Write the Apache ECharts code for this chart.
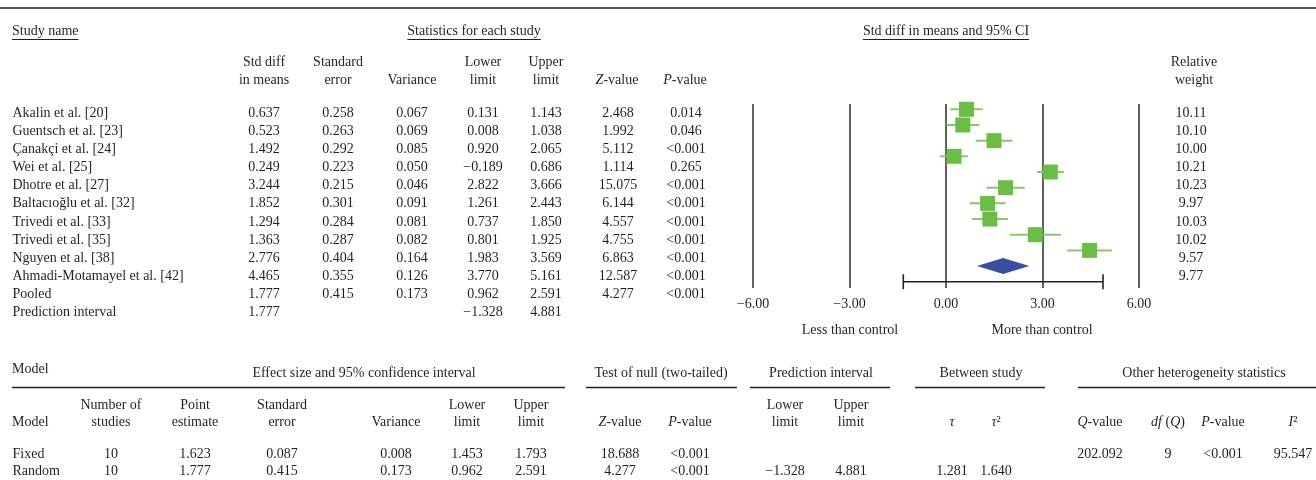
<!DOCTYPE html>
<html>
<head>
<meta charset="utf-8">
<script src="https://cdn.jsdelivr.net/npm/echarts@6/dist/echarts.min.js"></script>
<style>
html,body{margin:0;padding:0;background:#fff;}
#chart{width:1316px;height:480px;}
</style>
</head>
<body>
<div id="chart"></div>
<script>
// ---------------- DATA ----------------
const studies = ['Akalin et al. [20]','Guentsch et al. [23]','Çanakçi et al. [24]','Wei et al. [25]','Dhotre et al. [27]','Baltacıoğlu et al. [32]','Trivedi et al. [33]','Trivedi et al. [35]','Nguyen et al. [38]','Ahmadi-Motamayel et al. [42]'];
const smd        = [0.637, 0.523, 1.492, 0.249, 3.244, 1.852, 1.294, 1.363, 2.776, 4.465];
const stdErr     = [0.258, 0.263, 0.292, 0.223, 0.215, 0.301, 0.284, 0.287, 0.404, 0.355];
const variance   = [0.067, 0.069, 0.085, 0.050, 0.046, 0.091, 0.081, 0.082, 0.164, 0.126];
const lowerLimit = [0.131, 0.008, 0.920, -0.189, 2.822, 1.261, 0.737, 0.801, 1.983, 3.770];
const upperLimit = [1.143, 1.038, 2.065, 0.686, 3.666, 2.443, 1.850, 1.925, 3.569, 5.161];
const zValue     = [2.468, 1.992, 5.112, 1.114, 15.075, 6.144, 4.557, 4.755, 6.863, 12.587];
const pValue     = ['0.014','0.046','<0.001','0.265','<0.001','<0.001','<0.001','<0.001','<0.001','<0.001'];
const relWeight  = [10.11, 10.10, 10.00, 10.21, 10.23, 9.97, 10.03, 10.02, 9.57, 9.77];
const pooledStats     = [1.777, 0.415, 0.173, 0.962, 2.591, 4.277, '<0.001'];
const predictionStats = [1.777, null, null, -1.328, 4.881, null, null];
const summaryRowNames = ['Pooled', 'Prediction interval'];
const forestTicks = [-6, -3, 0, 3, 6];
const modelNames  = ['Fixed', 'Random'];
const fixedModel  = [10, 1.623, 0.087, 0.008, 1.453, 1.793, 18.688, '<0.001', null, null, null, null, 202.092, 9, '<0.001', 95.547];
const randomModel = [10, 1.777, 0.415, 0.173, 0.962, 2.591, 4.277, '<0.001', -1.328, 4.881, 1.281, 1.640, null, null, null, null];

// ---------------- LAYOUT / STYLE ----------------
const FONT = 'Liberation Serif';
const FS = 14;
const INK = '#231f20';
const GREEN = '#6cbd45';
const GREEN_LINE = '#86c965';
const BLUE = '#3a4d9f';
const topColX = [264, 338, 412, 483, 546, 618, 686];
const topColDec = [3, 3, 3, 3, 3, 3, 3];
const weightColX = 1191;
const nameColX = 12;
const botColX = [111, 195, 282, 396, 467, 531, 620, 690, 785, 851, 952, 996, 1100, 1168, 1223, 1293];
const botColDec = [0, 3, 3, 3, 3, 3, 3, 3, 3, 3, 3, 3, 3, 0, 3, 3];

function fmt(v, d) {
  if (v === null || v === undefined) return null;
  if (typeof v === 'string') return v;
  return (v < 0 ? '\u2212' : '') + Math.abs(v).toFixed(d);
}

const ctx = document.createElement('canvas').getContext('2d');
ctx.font = FS + 'px "' + FONT + '"';
function tw(s) { return ctx.measureText(s).width; }

const RICH = { i: { fontStyle: 'italic', fontFamily: FONT, fontSize: FS, fill: INK } };
function T(x, y, text, align) {
  return { type: 'text', x: x, y: y, silent: true,
    style: { text: text, fill: INK, fontFamily: FONT, fontSize: FS, align: align || 'center', verticalAlign: 'middle', rich: RICH } };
}
function L(x1, y1, x2, y2, w) {
  return { type: 'line', silent: true, shape: { x1: x1, y1: y1, x2: x2, y2: y2 }, style: { stroke: INK, lineWidth: w || 1 } };
}
function UT(x, y, text, align) {
  const w = tw(text);
  const x1 = align === 'left' ? x : x - w / 2;
  return [T(x, y, text, align), L(x1, y + 8.5, x1 + w, y + 8.5, 1)];
}

// ---------------- GRAPHIC (headers) ----------------
const graphic = [];
graphic.push(L(0, 8, 1316, 8, 1.6));
graphic.push(...UT(12, 31, 'Study name', 'left'));
graphic.push(...UT(474, 31, 'Statistics for each study', 'center'));
graphic.push(...UT(946, 31, 'Std diff in means and 95% CI', 'center'));
const topHead = [
  [264, 'Std diff', 'in means'], [338, 'Standard', 'error'], [412, null, 'Variance'],
  [483, 'Lower', 'limit'], [546, 'Upper', 'limit'], [617, null, '{i|Z}-value'],
  [685, null, '{i|P}-value'], [1194, 'Relative', 'weight']
];
topHead.forEach(h => { if (h[1]) graphic.push(T(h[0], 62, h[1])); graphic.push(T(h[0], 80, h[2])); });
graphic.push(T(850, 330, 'Less than control'));
graphic.push(T(1042, 330, 'More than control'));

graphic.push(T(12, 369, 'Model', 'left'));
[[364, 'Effect size and 95% confidence interval', 12, 565],
 [661, 'Test of null (two-tailed)', 586, 737],
 [821, 'Prediction interval', 750, 890],
 [981, 'Between study', 915, 1045],
 [1204, 'Other heterogeneity statistics', 1078, 1316]].forEach(g => {
  graphic.push(T(g[0], 373, g[1]));
  graphic.push(L(g[2], 387.5, g[3], 387.5, 1.4));
});
graphic.push(T(12, 422, 'Model', 'left'));
const botHead = [
  [111, 'Number of', 'studies'], [195, 'Point', 'estimate'], [282, 'Standard', 'error'],
  [396, null, 'Variance'], [467, 'Lower', 'limit'], [531, 'Upper', 'limit'],
  [620, null, '{i|Z}-value'], [690, null, '{i|P}-value'], [785, 'Lower', 'limit'],
  [851, 'Upper', 'limit'], [952, null, '{i|τ}'], [996, null, '{i|τ}²'],
  [1100, null, '{i|Q}-value'], [1168, null, '{i|df} ({i|Q})'], [1223, null, '{i|P}-value'], [1293, null, '{i|I}²']
];
botHead.forEach(h => { if (h[1]) graphic.push(T(h[0], 405, h[1])); graphic.push(T(h[0], 422, h[2])); });

// ---------------- TABLE SERIES ----------------
const labelBase = { show: true, formatter: '{b}', color: INK, fontFamily: FONT, fontSize: FS, opacity: 1 };
function textColumn(values, x, axisIdx, align) {
  const data = [];
  values.forEach((t, i) => { if (t !== null && t !== undefined && t !== '') data.push({ value: [x, i], name: t }); });
  return {
    type: 'scatter', xAxisIndex: axisIdx, yAxisIndex: axisIdx, symbolSize: 1, silent: true,
    itemStyle: { color: 'rgba(0,0,0,0)', opacity: 1 },
    label: Object.assign({}, labelBase, align === 'left' ? { position: 'right', distance: 0 } : { position: 'inside' }),
    data: data
  };
}
const topRowNames = studies.concat(summaryRowNames);
const topCols = [smd, stdErr, variance, lowerLimit, upperLimit, zValue, pValue];
const series = [];
series.push(textColumn(topRowNames, nameColX, 1, 'left'));
topCols.forEach((col, j) => {
  const vals = col.map(v => fmt(v, topColDec[j])).concat([fmt(pooledStats[j], topColDec[j]), fmt(predictionStats[j], topColDec[j])]);
  series.push(textColumn(vals, topColX[j], 1));
});
series.push(textColumn(relWeight.map(v => fmt(v, 2)), weightColX, 1));

series.push(textColumn(modelNames, nameColX, 2, 'left'));
botColX.forEach((x, j) => {
  series.push(textColumn([fmt(fixedModel[j], botColDec[j]), fmt(randomModel[j], botColDec[j])], x, 2));
});

// ---------------- FOREST SERIES ----------------
const diamondRow = studies.length;
const predRow = studies.length + 1;
series.push({
  type: 'custom', xAxisIndex: 0, yAxisIndex: 0, silent: true, z: 2,
  renderItem: function (params, api) {
    const a = api.coord([api.value(0), api.value(2)]);
    const b = api.coord([api.value(1), api.value(2)]);
    return { type: 'line', shape: { x1: a[0], y1: a[1], x2: b[0], y2: b[1] }, style: { stroke: GREEN_LINE, lineWidth: 2 } };
  },
  data: studies.map((s, i) => [lowerLimit[i], upperLimit[i], i])
});
series.push({
  type: 'scatter', xAxisIndex: 0, yAxisIndex: 0, silent: true, z: 3,
  symbol: 'rect', symbolSize: 15, itemStyle: { color: GREEN, opacity: 1 },
  data: smd.map((v, i) => [v, i])
});
series.push({
  type: 'custom', xAxisIndex: 0, yAxisIndex: 0, silent: true, z: 3,
  renderItem: function (params, api) {
    const l = api.coord([api.value(0), api.value(3)]);
    const c = api.coord([api.value(1), api.value(3)]);
    const r = api.coord([api.value(2), api.value(3)]);
    const h = 8;
    return { type: 'polygon', shape: { points: [[l[0], l[1]], [c[0], c[1] - h], [r[0], r[1]], [c[0], c[1] + h]] }, style: { fill: BLUE } };
  },
  data: [[pooledStats[3], pooledStats[0], pooledStats[4], diamondRow]]
});
series.push({
  type: 'custom', xAxisIndex: 0, yAxisIndex: 0, silent: true, z: 3,
  renderItem: function (params, api) {
    const a = api.coord([api.value(0), api.value(2)]);
    const b = api.coord([api.value(1), api.value(2)]);
    const cap = 7.5;
    const st = { stroke: '#222', lineWidth: 1.6 };
    return { type: 'group', children: [
      { type: 'line', shape: { x1: a[0], y1: a[1], x2: b[0], y2: b[1] }, style: st },
      { type: 'line', shape: { x1: a[0], y1: a[1] - cap, x2: a[0], y2: a[1] + cap }, style: st },
      { type: 'line', shape: { x1: b[0], y1: b[1] - cap, x2: b[0], y2: b[1] + cap }, style: st }
    ] };
  },
  data: [[predictionStats[3], predictionStats[4], predRow]]
});

// ---------------- OPTION ----------------
const chart = echarts.init(document.getElementById('chart'), null, { renderer: 'canvas' });
chart.setOption({
  animation: false,
  backgroundColor: '#fff',
  grid: [
    { left: 753, top: 104, width: 386, height: 184 },
    { left: 0, top: 103.9, width: 1316, height: 217.8 },
    { left: 0, top: 446.25, width: 1316, height: 35 }
  ],
  xAxis: [
    { gridIndex: 0, type: 'value', min: forestTicks[0], max: forestTicks[forestTicks.length - 1], interval: forestTicks[1] - forestTicks[0],
      axisLine: { show: false }, axisTick: { show: false },
      splitLine: { show: true, lineStyle: { color: '#2b2b2b', width: 1.5 } },
      axisLabel: { formatter: v => fmt(v, 2), color: INK, fontFamily: FONT, fontSize: FS, margin: 9 } },
    { gridIndex: 1, type: 'value', min: 0, max: 1316, show: false },
    { gridIndex: 2, type: 'value', min: 0, max: 1316, show: false }
  ],
  yAxis: [
    { gridIndex: 0, type: 'value', inverse: true, min: -0.338, max: 11.40, show: false },
    { gridIndex: 1, type: 'category', inverse: true, data: topRowNames, show: false },
    { gridIndex: 2, type: 'category', inverse: true, data: modelNames, show: false }
  ],
  graphic: graphic,
  series: series
});
</script>
</body>
</html>
